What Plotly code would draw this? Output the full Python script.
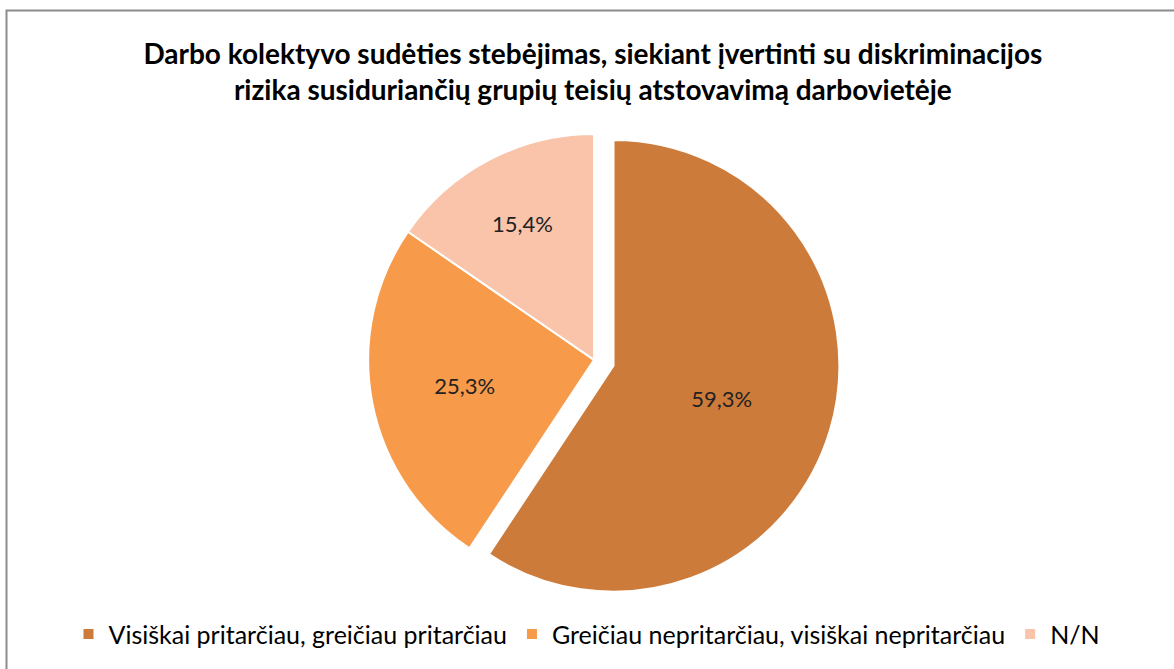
import plotly.graph_objects as go

labels = ['Visiškai pritarčiau, greičiau pritarčiau',
          'Greičiau nepritarčiau, visiškai nepritarčiau',
          'N/N']
values = [59.3, 25.3, 15.4]
colors = ['#CD7B3A', '#F79A4A', '#F9C4AA']
pulls = [0.09, 0, 0]

fig = go.Figure(go.Pie(
    labels=labels,
    values=values,
    sort=False,
    direction='clockwise',
    rotation=0,
    pull=pulls,
    marker=dict(colors=colors, line=dict(color='white', width=2)),
    texttemplate='%{percent:.1%}',
    textposition='inside',
    insidetextfont=dict(family='Lato', size=22, color='#222222'),
    hoverinfo='label+percent',
    domain=dict(x=[0.296, 0.716], y=[0.094, 0.830]),
))

fig.update_layout(
    width=1174,
    height=669,
    margin=dict(l=0, r=0, t=0, b=0),
    separators=', ',
    paper_bgcolor='white',
    title=dict(
        text='<b>Darbo kolektyvo sudėties stebėjimas, siekiant įvertinti su diskriminacijos<br>'
             'rizika susiduriančių grupių teisių atstovavimą darbovietėje</b>',
        x=0.505, xanchor='center', y=0.905, yanchor='bottom',
        font=dict(family='Lato', size=28, color='black'),
    ),
    legend=dict(
        orientation='h', x=0.5, xanchor='center', y=0.052, yanchor='middle',
        font=dict(family='Lato', size=25, color='black'),
        itemwidth=30,
    ),
    shapes=[dict(type='rect', xref='paper', yref='paper',
                 x0=6.5 / 1174, x1=1.01, y0=-0.01, y1=1 - 10.5 / 669,
                 line=dict(color='#8C8C8C', width=2))],
)

fig.write_html('out.html', config={'displayModeBar': False},
               post_script="document.body.style.margin='0';document.body.style.overflow='hidden';")
